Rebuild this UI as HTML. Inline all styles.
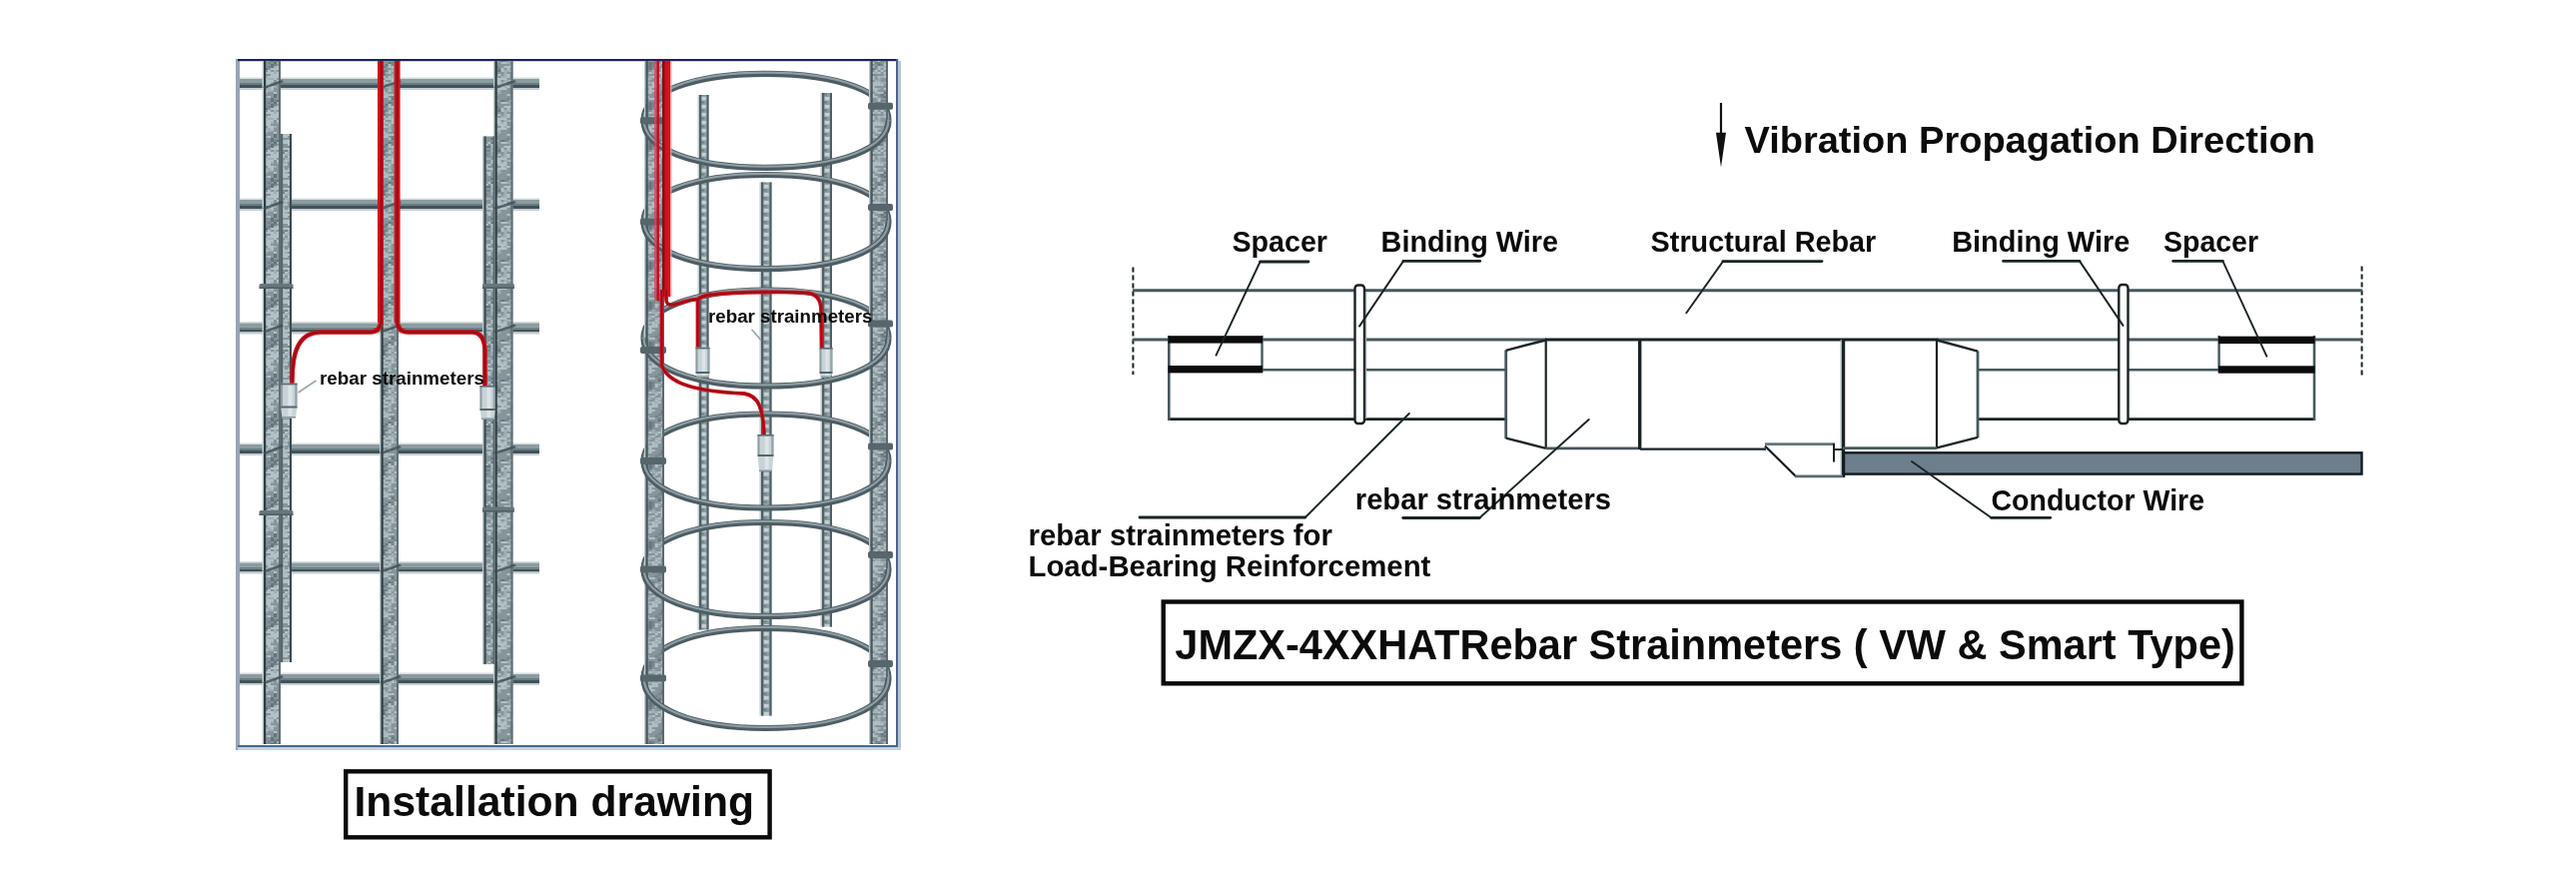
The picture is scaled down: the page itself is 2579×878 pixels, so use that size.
<!DOCTYPE html>
<html><head><meta charset="utf-8"><title>Rebar Strainmeters</title>
<style>
html,body{margin:0;padding:0;background:#fff;overflow:hidden}
svg{display:block;will-change:transform}
text{font-family:"Liberation Sans",sans-serif;font-weight:bold}
</style></head><body>
<svg width="2579" height="878" viewBox="0 0 2579 878">

<defs>
 <filter id="soft" x="0" y="0" width="1" height="1"><feGaussianBlur stdDeviation="0.45"/></filter>
<pattern id="p1" patternUnits="userSpaceOnUse" x="264" y="0" width="17" height="40"><rect width="17" height="40" fill="#85959a"/><rect x="1.0" y="0" width="3" height="2" fill="#b3c1c5"/><rect x="4.0" y="0" width="3" height="2" fill="#b3c1c5"/><rect x="7.0" y="0" width="3" height="2" fill="#b3c1c5"/><rect x="13.0" y="0" width="3" height="2" fill="#b3c1c5"/><rect x="1.0" y="2" width="3" height="2" fill="#b3c1c5"/><rect x="4.0" y="2" width="3" height="2" fill="#b3c1c5"/><rect x="7.0" y="2" width="3" height="2" fill="#9fafb3"/><rect x="13.0" y="2" width="3" height="2" fill="#9fafb3"/><rect x="1.0" y="4" width="3" height="2" fill="#b3c1c5"/><rect x="4.0" y="4" width="3" height="2" fill="#b3c1c5"/><rect x="4.0" y="6" width="3" height="2" fill="#b3c1c5"/><rect x="7.0" y="6" width="3" height="2" fill="#b3c1c5"/><rect x="10.0" y="6" width="3" height="2" fill="#9fafb3"/><rect x="1.0" y="8" width="3" height="2" fill="#9fafb3"/><rect x="4.0" y="8" width="3" height="2" fill="#9fafb3"/><rect x="7.0" y="8" width="3" height="2" fill="#b3c1c5"/><rect x="1.0" y="10" width="3" height="2" fill="#b3c1c5"/><rect x="4.0" y="10" width="3" height="2" fill="#9fafb3"/><rect x="7.0" y="10" width="3" height="2" fill="#9fafb3"/><rect x="1.0" y="12" width="3" height="2" fill="#9fafb3"/><rect x="10.0" y="12" width="3" height="2" fill="#b3c1c5"/><rect x="10.0" y="14" width="3" height="2" fill="#64747a"/><rect x="1.0" y="16" width="3" height="2" fill="#9fafb3"/><rect x="4.0" y="16" width="3" height="2" fill="#b3c1c5"/><rect x="10.0" y="16" width="3" height="2" fill="#64747a"/><rect x="7.0" y="18" width="3" height="2" fill="#64747a"/><rect x="7.0" y="20" width="3" height="2" fill="#64747a"/><rect x="10.0" y="20" width="3" height="2" fill="#74848a"/><rect x="13.0" y="20" width="3" height="2" fill="#64747a"/><rect x="4.0" y="22" width="3" height="2" fill="#74848a"/><rect x="10.0" y="22" width="3" height="2" fill="#64747a"/><rect x="13.0" y="22" width="3" height="2" fill="#9fafb3"/><rect x="7.0" y="24" width="3" height="2" fill="#64747a"/><rect x="10.0" y="24" width="3" height="2" fill="#74848a"/><rect x="4.0" y="26" width="3" height="2" fill="#74848a"/><rect x="7.0" y="26" width="3" height="2" fill="#64747a"/><rect x="10.0" y="26" width="3" height="2" fill="#9fafb3"/><rect x="13.0" y="26" width="3" height="2" fill="#b3c1c5"/><rect x="1.0" y="28" width="3" height="2" fill="#64747a"/><rect x="7.0" y="28" width="3" height="2" fill="#b3c1c5"/><rect x="10.0" y="28" width="3" height="2" fill="#b3c1c5"/><rect x="13.0" y="28" width="3" height="2" fill="#b3c1c5"/><rect x="4.0" y="30" width="3" height="2" fill="#b3c1c5"/><rect x="10.0" y="30" width="3" height="2" fill="#9fafb3"/><rect x="1.0" y="32" width="3" height="2" fill="#b3c1c5"/><rect x="4.0" y="32" width="3" height="2" fill="#b3c1c5"/><rect x="7.0" y="32" width="3" height="2" fill="#b3c1c5"/><rect x="10.0" y="32" width="3" height="2" fill="#9fafb3"/><rect x="13.0" y="32" width="3" height="2" fill="#b3c1c5"/><rect x="7.0" y="34" width="3" height="2" fill="#b3c1c5"/><rect x="10.0" y="34" width="3" height="2" fill="#b3c1c5"/><rect x="13.0" y="34" width="3" height="2" fill="#b3c1c5"/><rect x="1.0" y="36" width="3" height="2" fill="#9fafb3"/><rect x="4.0" y="36" width="3" height="2" fill="#b3c1c5"/><rect x="7.0" y="36" width="3" height="2" fill="#b3c1c5"/><rect x="10.0" y="36" width="3" height="2" fill="#b3c1c5"/><rect x="13.0" y="36" width="3" height="2" fill="#b3c1c5"/><rect x="1.0" y="38" width="3" height="2" fill="#b3c1c5"/><rect x="4.0" y="38" width="3" height="2" fill="#9fafb3"/><rect x="7.0" y="38" width="3" height="2" fill="#9fafb3"/><rect x="10.0" y="38" width="3" height="2" fill="#b3c1c5"/></pattern>
<pattern id="p2" patternUnits="userSpaceOnUse" x="381.5" y="0" width="17.5" height="40"><rect width="17.5" height="40" fill="#85959a"/><rect x="1.2" y="0" width="3" height="2" fill="#b3c1c5"/><rect x="10.2" y="0" width="3" height="2" fill="#b3c1c5"/><rect x="1.2" y="2" width="3" height="2" fill="#9fafb3"/><rect x="4.2" y="2" width="3" height="2" fill="#b3c1c5"/><rect x="7.2" y="2" width="3" height="2" fill="#9fafb3"/><rect x="10.2" y="2" width="3" height="2" fill="#b3c1c5"/><rect x="13.2" y="2" width="3" height="2" fill="#9fafb3"/><rect x="1.2" y="4" width="3" height="2" fill="#9fafb3"/><rect x="7.2" y="4" width="3" height="2" fill="#b3c1c5"/><rect x="1.2" y="6" width="3" height="2" fill="#b3c1c5"/><rect x="4.2" y="6" width="3" height="2" fill="#b3c1c5"/><rect x="7.2" y="6" width="3" height="2" fill="#9fafb3"/><rect x="7.2" y="8" width="3" height="2" fill="#9fafb3"/><rect x="13.2" y="8" width="3" height="2" fill="#b3c1c5"/><rect x="1.2" y="10" width="3" height="2" fill="#9fafb3"/><rect x="7.2" y="10" width="3" height="2" fill="#b3c1c5"/><rect x="1.2" y="12" width="3" height="2" fill="#b3c1c5"/><rect x="4.2" y="12" width="3" height="2" fill="#9fafb3"/><rect x="1.2" y="14" width="3" height="2" fill="#9fafb3"/><rect x="4.2" y="14" width="3" height="2" fill="#b3c1c5"/><rect x="7.2" y="14" width="3" height="2" fill="#b3c1c5"/><rect x="10.2" y="14" width="3" height="2" fill="#b3c1c5"/><rect x="1.2" y="16" width="3" height="2" fill="#b3c1c5"/><rect x="4.2" y="16" width="3" height="2" fill="#b3c1c5"/><rect x="10.2" y="16" width="3" height="2" fill="#74848a"/><rect x="7.2" y="18" width="3" height="2" fill="#b3c1c5"/><rect x="10.2" y="18" width="3" height="2" fill="#64747a"/><rect x="13.2" y="20" width="3" height="2" fill="#74848a"/><rect x="7.2" y="22" width="3" height="2" fill="#64747a"/><rect x="10.2" y="22" width="3" height="2" fill="#74848a"/><rect x="13.2" y="22" width="3" height="2" fill="#b3c1c5"/><rect x="4.2" y="24" width="3" height="2" fill="#64747a"/><rect x="7.2" y="24" width="3" height="2" fill="#b3c1c5"/><rect x="10.2" y="24" width="3" height="2" fill="#74848a"/><rect x="13.2" y="24" width="3" height="2" fill="#b3c1c5"/><rect x="1.2" y="26" width="3" height="2" fill="#64747a"/><rect x="7.2" y="26" width="3" height="2" fill="#b3c1c5"/><rect x="10.2" y="26" width="3" height="2" fill="#b3c1c5"/><rect x="10.2" y="28" width="3" height="2" fill="#9fafb3"/><rect x="1.2" y="30" width="3" height="2" fill="#64747a"/><rect x="4.2" y="30" width="3" height="2" fill="#74848a"/><rect x="7.2" y="30" width="3" height="2" fill="#b3c1c5"/><rect x="10.2" y="30" width="3" height="2" fill="#9fafb3"/><rect x="1.2" y="32" width="3" height="2" fill="#64747a"/><rect x="4.2" y="32" width="3" height="2" fill="#9fafb3"/><rect x="7.2" y="32" width="3" height="2" fill="#b3c1c5"/><rect x="13.2" y="32" width="3" height="2" fill="#b3c1c5"/><rect x="1.2" y="34" width="3" height="2" fill="#64747a"/><rect x="10.2" y="34" width="3" height="2" fill="#9fafb3"/><rect x="1.2" y="36" width="3" height="2" fill="#b3c1c5"/><rect x="7.2" y="36" width="3" height="2" fill="#b3c1c5"/><rect x="10.2" y="36" width="3" height="2" fill="#9fafb3"/><rect x="13.2" y="36" width="3" height="2" fill="#9fafb3"/><rect x="4.2" y="38" width="3" height="2" fill="#b3c1c5"/><rect x="7.2" y="38" width="3" height="2" fill="#b3c1c5"/><rect x="10.2" y="38" width="3" height="2" fill="#b3c1c5"/></pattern>
<pattern id="p3" patternUnits="userSpaceOnUse" x="495.5" y="0" width="18.0" height="40"><rect width="18.0" height="40" fill="#85959a"/><rect x="0.0" y="0" width="3" height="2" fill="#b3c1c5"/><rect x="3.0" y="0" width="3" height="2" fill="#b3c1c5"/><rect x="9.0" y="0" width="3" height="2" fill="#9fafb3"/><rect x="12.0" y="0" width="3" height="2" fill="#9fafb3"/><rect x="15.0" y="0" width="3" height="2" fill="#b3c1c5"/><rect x="0.0" y="2" width="3" height="2" fill="#b3c1c5"/><rect x="3.0" y="2" width="3" height="2" fill="#b3c1c5"/><rect x="6.0" y="2" width="3" height="2" fill="#9fafb3"/><rect x="9.0" y="2" width="3" height="2" fill="#b3c1c5"/><rect x="3.0" y="4" width="3" height="2" fill="#b3c1c5"/><rect x="6.0" y="4" width="3" height="2" fill="#b3c1c5"/><rect x="9.0" y="4" width="3" height="2" fill="#b3c1c5"/><rect x="6.0" y="6" width="3" height="2" fill="#b3c1c5"/><rect x="9.0" y="6" width="3" height="2" fill="#9fafb3"/><rect x="12.0" y="6" width="3" height="2" fill="#b3c1c5"/><rect x="0.0" y="8" width="3" height="2" fill="#9fafb3"/><rect x="3.0" y="8" width="3" height="2" fill="#b3c1c5"/><rect x="6.0" y="8" width="3" height="2" fill="#b3c1c5"/><rect x="9.0" y="8" width="3" height="2" fill="#b3c1c5"/><rect x="15.0" y="8" width="3" height="2" fill="#74848a"/><rect x="0.0" y="10" width="3" height="2" fill="#b3c1c5"/><rect x="3.0" y="10" width="3" height="2" fill="#9fafb3"/><rect x="15.0" y="10" width="3" height="2" fill="#74848a"/><rect x="3.0" y="12" width="3" height="2" fill="#9fafb3"/><rect x="15.0" y="12" width="3" height="2" fill="#74848a"/><rect x="0.0" y="14" width="3" height="2" fill="#9fafb3"/><rect x="12.0" y="14" width="3" height="2" fill="#b3c1c5"/><rect x="12.0" y="18" width="3" height="2" fill="#74848a"/><rect x="0.0" y="20" width="3" height="2" fill="#b3c1c5"/><rect x="6.0" y="20" width="3" height="2" fill="#64747a"/><rect x="9.0" y="20" width="3" height="2" fill="#74848a"/><rect x="15.0" y="20" width="3" height="2" fill="#b3c1c5"/><rect x="6.0" y="22" width="3" height="2" fill="#b3c1c5"/><rect x="9.0" y="22" width="3" height="2" fill="#b3c1c5"/><rect x="12.0" y="22" width="3" height="2" fill="#9fafb3"/><rect x="15.0" y="24" width="3" height="2" fill="#9fafb3"/><rect x="0.0" y="26" width="3" height="2" fill="#64747a"/><rect x="9.0" y="26" width="3" height="2" fill="#b3c1c5"/><rect x="12.0" y="26" width="3" height="2" fill="#b3c1c5"/><rect x="15.0" y="26" width="3" height="2" fill="#b3c1c5"/><rect x="0.0" y="28" width="3" height="2" fill="#74848a"/><rect x="3.0" y="28" width="3" height="2" fill="#74848a"/><rect x="6.0" y="28" width="3" height="2" fill="#b3c1c5"/><rect x="12.0" y="28" width="3" height="2" fill="#b3c1c5"/><rect x="0.0" y="30" width="3" height="2" fill="#74848a"/><rect x="3.0" y="30" width="3" height="2" fill="#64747a"/><rect x="6.0" y="30" width="3" height="2" fill="#b3c1c5"/><rect x="9.0" y="30" width="3" height="2" fill="#9fafb3"/><rect x="12.0" y="30" width="3" height="2" fill="#9fafb3"/><rect x="15.0" y="30" width="3" height="2" fill="#b3c1c5"/><rect x="0.0" y="32" width="3" height="2" fill="#74848a"/><rect x="9.0" y="32" width="3" height="2" fill="#9fafb3"/><rect x="3.0" y="34" width="3" height="2" fill="#b3c1c5"/><rect x="9.0" y="34" width="3" height="2" fill="#9fafb3"/><rect x="12.0" y="34" width="3" height="2" fill="#b3c1c5"/><rect x="0.0" y="36" width="3" height="2" fill="#9fafb3"/><rect x="6.0" y="36" width="3" height="2" fill="#9fafb3"/><rect x="9.0" y="36" width="3" height="2" fill="#9fafb3"/><rect x="12.0" y="36" width="3" height="2" fill="#b3c1c5"/><rect x="0.0" y="38" width="3" height="2" fill="#b3c1c5"/><rect x="3.0" y="38" width="3" height="2" fill="#b3c1c5"/><rect x="6.0" y="38" width="3" height="2" fill="#b3c1c5"/><rect x="9.0" y="38" width="3" height="2" fill="#b3c1c5"/></pattern>
<pattern id="p4" patternUnits="userSpaceOnUse" x="281" y="0" width="11" height="40"><rect width="11" height="40" fill="#85959a"/><rect x="1.0" y="0" width="3" height="2" fill="#9fafb3"/><rect x="4.0" y="0" width="3" height="2" fill="#b3c1c5"/><rect x="7.0" y="0" width="3" height="2" fill="#9fafb3"/><rect x="1.0" y="2" width="3" height="2" fill="#9fafb3"/><rect x="4.0" y="2" width="3" height="2" fill="#9fafb3"/><rect x="1.0" y="4" width="3" height="2" fill="#b3c1c5"/><rect x="4.0" y="4" width="3" height="2" fill="#b3c1c5"/><rect x="1.0" y="6" width="3" height="2" fill="#9fafb3"/><rect x="1.0" y="8" width="3" height="2" fill="#b3c1c5"/><rect x="7.0" y="8" width="3" height="2" fill="#9fafb3"/><rect x="1.0" y="10" width="3" height="2" fill="#b3c1c5"/><rect x="4.0" y="10" width="3" height="2" fill="#b3c1c5"/><rect x="7.0" y="10" width="3" height="2" fill="#b3c1c5"/><rect x="1.0" y="12" width="3" height="2" fill="#b3c1c5"/><rect x="4.0" y="12" width="3" height="2" fill="#9fafb3"/><rect x="1.0" y="14" width="3" height="2" fill="#b3c1c5"/><rect x="4.0" y="14" width="3" height="2" fill="#b3c1c5"/><rect x="7.0" y="14" width="3" height="2" fill="#b3c1c5"/><rect x="1.0" y="16" width="3" height="2" fill="#b3c1c5"/><rect x="4.0" y="16" width="3" height="2" fill="#b3c1c5"/><rect x="1.0" y="20" width="3" height="2" fill="#b3c1c5"/><rect x="4.0" y="20" width="3" height="2" fill="#b3c1c5"/><rect x="7.0" y="20" width="3" height="2" fill="#b3c1c5"/><rect x="1.0" y="22" width="3" height="2" fill="#b3c1c5"/><rect x="4.0" y="22" width="3" height="2" fill="#b3c1c5"/><rect x="7.0" y="22" width="3" height="2" fill="#b3c1c5"/><rect x="7.0" y="24" width="3" height="2" fill="#b3c1c5"/><rect x="7.0" y="26" width="3" height="2" fill="#74848a"/><rect x="1.0" y="28" width="3" height="2" fill="#b3c1c5"/><rect x="4.0" y="28" width="3" height="2" fill="#b3c1c5"/><rect x="7.0" y="28" width="3" height="2" fill="#b3c1c5"/><rect x="4.0" y="30" width="3" height="2" fill="#74848a"/><rect x="7.0" y="30" width="3" height="2" fill="#9fafb3"/><rect x="1.0" y="32" width="3" height="2" fill="#74848a"/><rect x="4.0" y="32" width="3" height="2" fill="#b3c1c5"/><rect x="7.0" y="32" width="3" height="2" fill="#9fafb3"/><rect x="1.0" y="34" width="3" height="2" fill="#b3c1c5"/><rect x="4.0" y="34" width="3" height="2" fill="#9fafb3"/><rect x="7.0" y="34" width="3" height="2" fill="#9fafb3"/><rect x="1.0" y="36" width="3" height="2" fill="#b3c1c5"/><rect x="7.0" y="36" width="3" height="2" fill="#b3c1c5"/><rect x="4.0" y="38" width="3" height="2" fill="#9fafb3"/><rect x="7.0" y="38" width="3" height="2" fill="#9fafb3"/></pattern>
<pattern id="p5" patternUnits="userSpaceOnUse" x="484.5" y="0" width="11.0" height="40"><rect width="11.0" height="40" fill="#85959a"/><rect x="7.0" y="0" width="3" height="2" fill="#b3c1c5"/><rect x="7.0" y="2" width="3" height="2" fill="#b3c1c5"/><rect x="1.0" y="4" width="3" height="2" fill="#9fafb3"/><rect x="4.0" y="4" width="3" height="2" fill="#b3c1c5"/><rect x="1.0" y="6" width="3" height="2" fill="#b3c1c5"/><rect x="1.0" y="8" width="3" height="2" fill="#9fafb3"/><rect x="4.0" y="8" width="3" height="2" fill="#b3c1c5"/><rect x="7.0" y="8" width="3" height="2" fill="#b3c1c5"/><rect x="7.0" y="10" width="3" height="2" fill="#9fafb3"/><rect x="1.0" y="12" width="3" height="2" fill="#9fafb3"/><rect x="4.0" y="12" width="3" height="2" fill="#b3c1c5"/><rect x="4.0" y="14" width="3" height="2" fill="#b3c1c5"/><rect x="7.0" y="18" width="3" height="2" fill="#64747a"/><rect x="4.0" y="22" width="3" height="2" fill="#b3c1c5"/><rect x="7.0" y="22" width="3" height="2" fill="#64747a"/><rect x="1.0" y="24" width="3" height="2" fill="#b3c1c5"/><rect x="7.0" y="24" width="3" height="2" fill="#b3c1c5"/><rect x="1.0" y="26" width="3" height="2" fill="#64747a"/><rect x="4.0" y="26" width="3" height="2" fill="#64747a"/><rect x="7.0" y="26" width="3" height="2" fill="#b3c1c5"/><rect x="7.0" y="28" width="3" height="2" fill="#9fafb3"/><rect x="1.0" y="30" width="3" height="2" fill="#74848a"/><rect x="4.0" y="30" width="3" height="2" fill="#74848a"/><rect x="7.0" y="30" width="3" height="2" fill="#b3c1c5"/><rect x="7.0" y="32" width="3" height="2" fill="#9fafb3"/><rect x="1.0" y="34" width="3" height="2" fill="#74848a"/><rect x="7.0" y="34" width="3" height="2" fill="#9fafb3"/><rect x="1.0" y="38" width="3" height="2" fill="#9fafb3"/><rect x="4.0" y="38" width="3" height="2" fill="#9fafb3"/></pattern>
<pattern id="p6" patternUnits="userSpaceOnUse" x="700" y="0" width="9.5" height="8">
  <rect width="9.5" height="8" fill="#8d9ea2"/>
  <rect x="2.4" y="1" width="4.8" height="3.5" fill="#c3cfd3"/>
  <rect x="1.9" y="5.5" width="2.9" height="2" fill="#6e7e82"/>
 </pattern>
<pattern id="p7" patternUnits="userSpaceOnUse" x="823" y="0" width="10" height="8">
  <rect width="10" height="8" fill="#8d9ea2"/>
  <rect x="2.5" y="1" width="5.0" height="3.5" fill="#c3cfd3"/>
  <rect x="2.0" y="5.5" width="3.0" height="2" fill="#6e7e82"/>
 </pattern>
<pattern id="p8" patternUnits="userSpaceOnUse" x="762" y="0" width="10.5" height="8">
  <rect width="10.5" height="8" fill="#8d9ea2"/>
  <rect x="2.6" y="1" width="5.2" height="3.5" fill="#c3cfd3"/>
  <rect x="2.1" y="5.5" width="3.1" height="2" fill="#6e7e82"/>
 </pattern>
<pattern id="p9" patternUnits="userSpaceOnUse" x="646.5" y="0" width="18.5" height="40"><rect width="18.5" height="40" fill="#85959a"/><rect x="0.2" y="0" width="3" height="2" fill="#9fafb3"/><rect x="9.2" y="0" width="3" height="2" fill="#b3c1c5"/><rect x="12.2" y="0" width="3" height="2" fill="#9fafb3"/><rect x="0.2" y="2" width="3" height="2" fill="#b3c1c5"/><rect x="3.2" y="2" width="3" height="2" fill="#9fafb3"/><rect x="6.2" y="2" width="3" height="2" fill="#b3c1c5"/><rect x="9.2" y="2" width="3" height="2" fill="#9fafb3"/><rect x="12.2" y="2" width="3" height="2" fill="#b3c1c5"/><rect x="0.2" y="4" width="3" height="2" fill="#9fafb3"/><rect x="6.2" y="4" width="3" height="2" fill="#b3c1c5"/><rect x="9.2" y="4" width="3" height="2" fill="#b3c1c5"/><rect x="0.2" y="6" width="3" height="2" fill="#9fafb3"/><rect x="3.2" y="6" width="3" height="2" fill="#b3c1c5"/><rect x="6.2" y="6" width="3" height="2" fill="#b3c1c5"/><rect x="9.2" y="6" width="3" height="2" fill="#b3c1c5"/><rect x="3.2" y="8" width="3" height="2" fill="#b3c1c5"/><rect x="0.2" y="10" width="3" height="2" fill="#9fafb3"/><rect x="3.2" y="10" width="3" height="2" fill="#b3c1c5"/><rect x="6.2" y="10" width="3" height="2" fill="#b3c1c5"/><rect x="15.2" y="10" width="3" height="2" fill="#74848a"/><rect x="0.2" y="12" width="3" height="2" fill="#9fafb3"/><rect x="3.2" y="12" width="3" height="2" fill="#b3c1c5"/><rect x="15.2" y="12" width="3" height="2" fill="#64747a"/><rect x="12.2" y="14" width="3" height="2" fill="#74848a"/><rect x="15.2" y="14" width="3" height="2" fill="#74848a"/><rect x="0.2" y="16" width="3" height="2" fill="#b3c1c5"/><rect x="9.2" y="16" width="3" height="2" fill="#74848a"/><rect x="3.2" y="18" width="3" height="2" fill="#b3c1c5"/><rect x="6.2" y="18" width="3" height="2" fill="#b3c1c5"/><rect x="12.2" y="18" width="3" height="2" fill="#74848a"/><rect x="12.2" y="20" width="3" height="2" fill="#64747a"/><rect x="3.2" y="22" width="3" height="2" fill="#64747a"/><rect x="6.2" y="22" width="3" height="2" fill="#74848a"/><rect x="15.2" y="22" width="3" height="2" fill="#b3c1c5"/><rect x="3.2" y="24" width="3" height="2" fill="#64747a"/><rect x="6.2" y="24" width="3" height="2" fill="#74848a"/><rect x="9.2" y="24" width="3" height="2" fill="#b3c1c5"/><rect x="12.2" y="24" width="3" height="2" fill="#9fafb3"/><rect x="0.2" y="26" width="3" height="2" fill="#74848a"/><rect x="3.2" y="26" width="3" height="2" fill="#64747a"/><rect x="6.2" y="26" width="3" height="2" fill="#74848a"/><rect x="9.2" y="26" width="3" height="2" fill="#b3c1c5"/><rect x="3.2" y="28" width="3" height="2" fill="#64747a"/><rect x="15.2" y="28" width="3" height="2" fill="#b3c1c5"/><rect x="0.2" y="30" width="3" height="2" fill="#74848a"/><rect x="6.2" y="30" width="3" height="2" fill="#9fafb3"/><rect x="15.2" y="30" width="3" height="2" fill="#b3c1c5"/><rect x="3.2" y="32" width="3" height="2" fill="#b3c1c5"/><rect x="6.2" y="32" width="3" height="2" fill="#9fafb3"/><rect x="9.2" y="32" width="3" height="2" fill="#9fafb3"/><rect x="12.2" y="32" width="3" height="2" fill="#b3c1c5"/><rect x="15.2" y="32" width="3" height="2" fill="#b3c1c5"/><rect x="9.2" y="34" width="3" height="2" fill="#b3c1c5"/><rect x="15.2" y="34" width="3" height="2" fill="#b3c1c5"/><rect x="3.2" y="36" width="3" height="2" fill="#9fafb3"/><rect x="6.2" y="36" width="3" height="2" fill="#b3c1c5"/><rect x="15.2" y="36" width="3" height="2" fill="#b3c1c5"/><rect x="0.2" y="38" width="3" height="2" fill="#b3c1c5"/><rect x="3.2" y="38" width="3" height="2" fill="#9fafb3"/><rect x="9.2" y="38" width="3" height="2" fill="#9fafb3"/><rect x="12.2" y="38" width="3" height="2" fill="#b3c1c5"/></pattern>
<pattern id="p10" patternUnits="userSpaceOnUse" x="871.5" y="0" width="17.5" height="40"><rect width="17.5" height="40" fill="#85959a"/><rect x="4.2" y="0" width="3" height="2" fill="#9fafb3"/><rect x="7.2" y="0" width="3" height="2" fill="#9fafb3"/><rect x="1.2" y="2" width="3" height="2" fill="#b3c1c5"/><rect x="4.2" y="2" width="3" height="2" fill="#b3c1c5"/><rect x="7.2" y="2" width="3" height="2" fill="#b3c1c5"/><rect x="10.2" y="2" width="3" height="2" fill="#9fafb3"/><rect x="13.2" y="2" width="3" height="2" fill="#9fafb3"/><rect x="1.2" y="4" width="3" height="2" fill="#b3c1c5"/><rect x="4.2" y="4" width="3" height="2" fill="#b3c1c5"/><rect x="7.2" y="4" width="3" height="2" fill="#b3c1c5"/><rect x="10.2" y="4" width="3" height="2" fill="#b3c1c5"/><rect x="1.2" y="6" width="3" height="2" fill="#b3c1c5"/><rect x="1.2" y="8" width="3" height="2" fill="#b3c1c5"/><rect x="4.2" y="8" width="3" height="2" fill="#b3c1c5"/><rect x="7.2" y="8" width="3" height="2" fill="#9fafb3"/><rect x="13.2" y="8" width="3" height="2" fill="#b3c1c5"/><rect x="1.2" y="10" width="3" height="2" fill="#9fafb3"/><rect x="4.2" y="10" width="3" height="2" fill="#b3c1c5"/><rect x="4.2" y="12" width="3" height="2" fill="#9fafb3"/><rect x="7.2" y="12" width="3" height="2" fill="#b3c1c5"/><rect x="10.2" y="12" width="3" height="2" fill="#b3c1c5"/><rect x="13.2" y="12" width="3" height="2" fill="#64747a"/><rect x="1.2" y="14" width="3" height="2" fill="#b3c1c5"/><rect x="10.2" y="14" width="3" height="2" fill="#64747a"/><rect x="1.2" y="16" width="3" height="2" fill="#b3c1c5"/><rect x="4.2" y="16" width="3" height="2" fill="#b3c1c5"/><rect x="10.2" y="16" width="3" height="2" fill="#74848a"/><rect x="13.2" y="16" width="3" height="2" fill="#64747a"/><rect x="7.2" y="18" width="3" height="2" fill="#b3c1c5"/><rect x="7.2" y="20" width="3" height="2" fill="#b3c1c5"/><rect x="10.2" y="20" width="3" height="2" fill="#74848a"/><rect x="13.2" y="20" width="3" height="2" fill="#74848a"/><rect x="1.2" y="22" width="3" height="2" fill="#b3c1c5"/><rect x="4.2" y="22" width="3" height="2" fill="#74848a"/><rect x="7.2" y="22" width="3" height="2" fill="#74848a"/><rect x="13.2" y="22" width="3" height="2" fill="#9fafb3"/><rect x="7.2" y="24" width="3" height="2" fill="#64747a"/><rect x="10.2" y="24" width="3" height="2" fill="#74848a"/><rect x="13.2" y="24" width="3" height="2" fill="#b3c1c5"/><rect x="1.2" y="26" width="3" height="2" fill="#b3c1c5"/><rect x="4.2" y="26" width="3" height="2" fill="#74848a"/><rect x="7.2" y="26" width="3" height="2" fill="#b3c1c5"/><rect x="10.2" y="26" width="3" height="2" fill="#9fafb3"/><rect x="13.2" y="26" width="3" height="2" fill="#9fafb3"/><rect x="1.2" y="28" width="3" height="2" fill="#64747a"/><rect x="7.2" y="28" width="3" height="2" fill="#b3c1c5"/><rect x="13.2" y="28" width="3" height="2" fill="#b3c1c5"/><rect x="4.2" y="30" width="3" height="2" fill="#b3c1c5"/><rect x="10.2" y="30" width="3" height="2" fill="#b3c1c5"/><rect x="1.2" y="32" width="3" height="2" fill="#b3c1c5"/><rect x="4.2" y="32" width="3" height="2" fill="#9fafb3"/><rect x="7.2" y="32" width="3" height="2" fill="#b3c1c5"/><rect x="13.2" y="32" width="3" height="2" fill="#b3c1c5"/><rect x="1.2" y="34" width="3" height="2" fill="#74848a"/><rect x="13.2" y="34" width="3" height="2" fill="#9fafb3"/><rect x="1.2" y="36" width="3" height="2" fill="#b3c1c5"/><rect x="7.2" y="36" width="3" height="2" fill="#b3c1c5"/><rect x="10.2" y="36" width="3" height="2" fill="#9fafb3"/><rect x="13.2" y="36" width="3" height="2" fill="#b3c1c5"/><rect x="1.2" y="38" width="3" height="2" fill="#b3c1c5"/><rect x="7.2" y="38" width="3" height="2" fill="#9fafb3"/></pattern></defs>
<rect width="2579" height="878" fill="#ffffff"/>
<g filter="url(#soft)">
<rect x="236" y="59" width="4" height="692" fill="#95a5b5"/>
<rect x="238" y="59" width="661" height="2.2" fill="#1b2850"/>
<rect x="897" y="59" width="2.2" height="689" fill="#4e6488"/>
<rect x="899" y="61" width="3" height="690" fill="#b6c4d4"/>
<rect x="238" y="746" width="661" height="2.2" fill="#4a6890"/>
<rect x="238" y="748" width="664" height="3" fill="#c6d2de"/>
<rect x="240" y="77.5" width="300" height="1.5" fill="#d6dede"/>
<rect x="240" y="79" width="300" height="4" fill="#8a9ca0"/>
<rect x="240" y="83" width="300" height="2" fill="#6a7c80"/>
<rect x="240" y="85" width="300" height="3" fill="#405256"/>
<rect x="240" y="88" width="300" height="2" fill="#c6ced6"/>
<rect x="240" y="198.5" width="300" height="1.5" fill="#d6dede"/>
<rect x="240" y="200" width="300" height="4" fill="#8a9ca0"/>
<rect x="240" y="204" width="300" height="2" fill="#6a7c80"/>
<rect x="240" y="206" width="300" height="3" fill="#405256"/>
<rect x="240" y="209" width="300" height="2" fill="#c6ced6"/>
<rect x="240" y="322.0" width="300" height="1.5" fill="#d6dede"/>
<rect x="240" y="323.5" width="300" height="4" fill="#8a9ca0"/>
<rect x="240" y="327.5" width="300" height="2" fill="#6a7c80"/>
<rect x="240" y="329.5" width="300" height="3" fill="#405256"/>
<rect x="240" y="332.5" width="300" height="2" fill="#c6ced6"/>
<rect x="240" y="443.5" width="300" height="1.5" fill="#d6dede"/>
<rect x="240" y="445" width="300" height="4" fill="#8a9ca0"/>
<rect x="240" y="449" width="300" height="2" fill="#6a7c80"/>
<rect x="240" y="451" width="300" height="3" fill="#405256"/>
<rect x="240" y="454" width="300" height="2" fill="#c6ced6"/>
<rect x="240" y="562.0" width="300" height="1.5" fill="#d6dede"/>
<rect x="240" y="563.5" width="300" height="4" fill="#8a9ca0"/>
<rect x="240" y="567.5" width="300" height="2" fill="#6a7c80"/>
<rect x="240" y="569.5" width="300" height="3" fill="#405256"/>
<rect x="240" y="572.5" width="300" height="2" fill="#c6ced6"/>
<rect x="240" y="673.5" width="300" height="1.5" fill="#d6dede"/>
<rect x="240" y="675" width="300" height="4" fill="#8a9ca0"/>
<rect x="240" y="679" width="300" height="2" fill="#6a7c80"/>
<rect x="240" y="681" width="300" height="3" fill="#405256"/>
<rect x="240" y="684" width="300" height="2" fill="#c6ced6"/>
<rect x="262.5" y="61" width="1.5" height="684" fill="#c0cccc"/>
<rect x="264" y="61" width="17" height="684" fill="url(#p1)"/>
<rect x="264" y="61" width="2.2" height="684" fill="#2e3e42"/>
<rect x="279" y="61" width="2" height="684" fill="#5f6f73"/>
<rect x="380.0" y="61" width="1.5" height="684" fill="#c0cccc"/>
<rect x="381.5" y="61" width="17.5" height="684" fill="url(#p2)"/>
<rect x="381.5" y="61" width="2.2" height="684" fill="#2e3e42"/>
<rect x="397" y="61" width="2" height="684" fill="#5f6f73"/>
<rect x="494.0" y="61" width="1.5" height="684" fill="#c0cccc"/>
<rect x="495.5" y="61" width="18.0" height="684" fill="url(#p3)"/>
<rect x="495.5" y="61" width="2.2" height="684" fill="#2e3e42"/>
<rect x="511.5" y="61" width="2" height="684" fill="#5f6f73"/>
<rect x="281" y="134" width="11" height="529" fill="url(#p4)"/>
<rect x="281" y="134" width="2.2" height="529" fill="#56666a"/>
<rect x="290" y="134" width="2" height="529" fill="#3a4a4e"/>
<rect x="483.0" y="136.5" width="1.5" height="528.5" fill="#c0cccc"/>
<rect x="484.5" y="136.5" width="11.0" height="528.5" fill="url(#p5)"/>
<rect x="484.5" y="136.5" width="2.2" height="528.5" fill="#3e4e52"/>
<rect x="493.5" y="136.5" width="2" height="528.5" fill="#5a6a6e"/>
<path d="M263,87 L282,80 L284,82 L265,89 Z" fill="#3e4e52" opacity="0.8"/>
<path d="M380,87 L400,80 L402,82 L382,89 Z" fill="#3e4e52" opacity="0.8"/>
<path d="M494,87 L515,80 L517,82 L496,89 Z" fill="#3e4e52" opacity="0.8"/>
<path d="M263,208 L282,201 L284,203 L265,210 Z" fill="#3e4e52" opacity="0.8"/>
<path d="M380,208 L400,201 L402,203 L382,210 Z" fill="#3e4e52" opacity="0.8"/>
<path d="M494,208 L515,201 L517,203 L496,210 Z" fill="#3e4e52" opacity="0.8"/>
<path d="M263,331.5 L282,324.5 L284,326.5 L265,333.5 Z" fill="#3e4e52" opacity="0.8"/>
<path d="M380,331.5 L400,324.5 L402,326.5 L382,333.5 Z" fill="#3e4e52" opacity="0.8"/>
<path d="M494,331.5 L515,324.5 L517,326.5 L496,333.5 Z" fill="#3e4e52" opacity="0.8"/>
<path d="M263,453 L282,446 L284,448 L265,455 Z" fill="#3e4e52" opacity="0.8"/>
<path d="M380,453 L400,446 L402,448 L382,455 Z" fill="#3e4e52" opacity="0.8"/>
<path d="M494,453 L515,446 L517,448 L496,455 Z" fill="#3e4e52" opacity="0.8"/>
<path d="M263,571.5 L282,564.5 L284,566.5 L265,573.5 Z" fill="#3e4e52" opacity="0.8"/>
<path d="M380,571.5 L400,564.5 L402,566.5 L382,573.5 Z" fill="#3e4e52" opacity="0.8"/>
<path d="M494,571.5 L515,564.5 L517,566.5 L496,573.5 Z" fill="#3e4e52" opacity="0.8"/>
<path d="M263,683 L282,676 L284,678 L265,685 Z" fill="#3e4e52" opacity="0.8"/>
<path d="M380,683 L400,676 L402,678 L382,685 Z" fill="#3e4e52" opacity="0.8"/>
<path d="M494,683 L515,676 L517,678 L496,685 Z" fill="#3e4e52" opacity="0.8"/>
<rect x="259.5" y="284" width="34.0" height="5" rx="1.5" fill="#67777b"/>
<rect x="259.5" y="287.5" width="34.0" height="1.5" fill="#4e5e62"/>
<rect x="483" y="284" width="32" height="5" rx="1.5" fill="#67777b"/>
<rect x="483" y="287.5" width="32" height="1.5" fill="#4e5e62"/>
<rect x="259.5" y="511" width="34.0" height="5" rx="1.5" fill="#67777b"/>
<rect x="259.5" y="514.5" width="34.0" height="1.5" fill="#4e5e62"/>
<rect x="483" y="507.5" width="32" height="5" rx="1.5" fill="#67777b"/>
<rect x="483" y="511.0" width="32" height="1.5" fill="#4e5e62"/>
<path d="M381.5,61 L381.5,320 Q381.5,332.5 370,332.5 L322,332.5 C300,332.5 292,350 292.5,384" fill="none" stroke="#d0121e" stroke-width="4.6"/>
<path d="M381.5,61 L381.5,320 Q381.5,332.5 370,332.5 L322,332.5 C300,332.5 292,350 292.5,384" fill="none" stroke="#980a14" stroke-width="2"/>
<path d="M397.5,61 L397.5,320 Q397.5,332.5 409,332.5 L472,332.5 C481,332.5 485.5,339 485.5,352 L485.5,386" fill="none" stroke="#d0121e" stroke-width="4.6"/>
<path d="M397.5,61 L397.5,320 Q397.5,332.5 409,332.5 L472,332.5 C481,332.5 485.5,339 485.5,352 L485.5,386" fill="none" stroke="#980a14" stroke-width="2"/>
<rect x="378" y="61" width="6" height="262" fill="#d0121e"/>
<rect x="380.6" y="61" width="2" height="262" fill="#980a14"/>
<rect x="394.6" y="61" width="6" height="262" fill="#d0121e"/>
<rect x="396.6" y="61" width="2" height="262" fill="#980a14"/>
<path d="M281,383.7 L297.5,383.7 L297.5,406.5 L296.0,418.5 L282.5,418.5 L281,406.5 Z" fill="#c8d3d7"/>
<rect x="281" y="383.7" width="2" height="22.80000000000001" fill="#8d9da1"/>
<rect x="295.3" y="383.7" width="2.2" height="22.80000000000001" fill="#92a2a6"/>
<rect x="288.4" y="385.7" width="4.1" height="30.80000000000001" fill="#dce4e8"/>
<rect x="281" y="383.7" width="16.5" height="1.6" fill="#5c6c70"/>
<rect x="281" y="406.5" width="16.5" height="2" fill="#56666a"/>
<rect x="282.5" y="417.0" width="13.5" height="1.5" fill="#8a9a9e"/>
<path d="M480.5,386 L496,386 L496,409 L494.5,420 L482.0,420 L480.5,409 Z" fill="#c8d3d7"/>
<rect x="480.5" y="386" width="2" height="23" fill="#8d9da1"/>
<rect x="493.8" y="386" width="2.2" height="23" fill="#92a2a6"/>
<rect x="487.5" y="388" width="3.9" height="30" fill="#dce4e8"/>
<rect x="480.5" y="386" width="15.5" height="1.6" fill="#5c6c70"/>
<rect x="480.5" y="409" width="15.5" height="2" fill="#56666a"/>
<rect x="482.0" y="418.5" width="12.5" height="1.5" fill="#8a9a9e"/>
<line x1="316.5" y1="381" x2="298.5" y2="393" stroke="#9aa8a8" stroke-width="1.6"/>
<text x="320" y="384.5" font-size="18.8" textLength="165" lengthAdjust="spacingAndGlyphs" fill="#0b0b0b">rebar strainmeters</text>
<rect x="698.5" y="95" width="1.5" height="535.5" fill="#c0cccc"/>
<rect x="700" y="95" width="9.5" height="535.5" fill="url(#p6)"/>
<rect x="700" y="95" width="2.2" height="535.5" fill="#4e5e62"/>
<rect x="707.5" y="95" width="2" height="535.5" fill="#4e5e62"/>
<rect x="821.5" y="93" width="1.5" height="534.5" fill="#c0cccc"/>
<rect x="823" y="93" width="10" height="534.5" fill="url(#p7)"/>
<rect x="823" y="93" width="2.2" height="534.5" fill="#4e5e62"/>
<rect x="831" y="93" width="2" height="534.5" fill="#4e5e62"/>
<rect x="760.5" y="182.5" width="1.5" height="534.0" fill="#c0cccc"/>
<rect x="762" y="182.5" width="10.5" height="534.0" fill="url(#p8)"/>
<rect x="762" y="182.5" width="2.2" height="534.0" fill="#4e5e62"/>
<rect x="770.5" y="182.5" width="2" height="534.0" fill="#4e5e62"/>
<path d="M644.5,120.8 C644.5,92.6 693.5,73.8 767,73.8 C840.5,73.8 889.5,92.6 889.5,120.8" fill="none" stroke="#4d5d63" stroke-width="6.2"/>
<path d="M644.5,120.8 C644.5,92.6 693.5,73.8 767,73.8 C840.5,73.8 889.5,92.6 889.5,120.8" fill="none" stroke="#8d9da3" stroke-width="2.2" transform="translate(0,-1.1)"/>
<path d="M644.5,222 C644.5,193.8 693.5,175 767,175 C840.5,175 889.5,193.8 889.5,222" fill="none" stroke="#4d5d63" stroke-width="6.2"/>
<path d="M644.5,222 C644.5,193.8 693.5,175 767,175 C840.5,175 889.5,193.8 889.5,222" fill="none" stroke="#8d9da3" stroke-width="2.2" transform="translate(0,-1.1)"/>
<path d="M644.5,338.5 C644.5,309.7 693.5,290.5 767,290.5 C840.5,290.5 889.5,309.7 889.5,338.5" fill="none" stroke="#4d5d63" stroke-width="6.2"/>
<path d="M644.5,338.5 C644.5,309.7 693.5,290.5 767,290.5 C840.5,290.5 889.5,309.7 889.5,338.5" fill="none" stroke="#8d9da3" stroke-width="2.2" transform="translate(0,-1.1)"/>
<path d="M644.5,461.5 C644.5,433.3 693.5,414.5 767,414.5 C840.5,414.5 889.5,433.3 889.5,461.5" fill="none" stroke="#4d5d63" stroke-width="6.2"/>
<path d="M644.5,461.5 C644.5,433.3 693.5,414.5 767,414.5 C840.5,414.5 889.5,433.3 889.5,461.5" fill="none" stroke="#8d9da3" stroke-width="2.2" transform="translate(0,-1.1)"/>
<path d="M644.5,570 C644.5,541.8 693.5,523 767,523 C840.5,523 889.5,541.8 889.5,570" fill="none" stroke="#4d5d63" stroke-width="6.2"/>
<path d="M644.5,570 C644.5,541.8 693.5,523 767,523 C840.5,523 889.5,541.8 889.5,570" fill="none" stroke="#8d9da3" stroke-width="2.2" transform="translate(0,-1.1)"/>
<path d="M644.5,679 C644.5,649.0 693.5,629 767,629 C840.5,629 889.5,649.0 889.5,679" fill="none" stroke="#4d5d63" stroke-width="6.2"/>
<path d="M644.5,679 C644.5,649.0 693.5,629 767,629 C840.5,629 889.5,649.0 889.5,679" fill="none" stroke="#8d9da3" stroke-width="2.2" transform="translate(0,-1.1)"/>
<rect x="645.0" y="61" width="1.5" height="684" fill="#c0cccc"/>
<rect x="646.5" y="61" width="18.5" height="684" fill="url(#p9)"/>
<rect x="646.5" y="61" width="2.2" height="684" fill="#46585c"/>
<rect x="663" y="61" width="2" height="684" fill="#5a6a6e"/>
<rect x="870.0" y="61" width="1.5" height="684" fill="#c0cccc"/>
<rect x="871.5" y="61" width="17.5" height="684" fill="url(#p10)"/>
<rect x="871.5" y="61" width="2.2" height="684" fill="#46585c"/>
<rect x="887" y="61" width="2" height="684" fill="#5a6a6e"/>
<path d="M644.5,120.8 C644.5,149.0 693.5,167.8 767,167.8 C840.5,167.8 889.5,149.0 889.5,120.8" fill="none" stroke="#4d5d63" stroke-width="6.2"/>
<path d="M644.5,120.8 C644.5,149.0 693.5,167.8 767,167.8 C840.5,167.8 889.5,149.0 889.5,120.8" fill="none" stroke="#8d9da3" stroke-width="2.2" transform="translate(0,-1.1)"/>
<path d="M644.5,222 C644.5,250.2 693.5,269 767,269 C840.5,269 889.5,250.2 889.5,222" fill="none" stroke="#4d5d63" stroke-width="6.2"/>
<path d="M644.5,222 C644.5,250.2 693.5,269 767,269 C840.5,269 889.5,250.2 889.5,222" fill="none" stroke="#8d9da3" stroke-width="2.2" transform="translate(0,-1.1)"/>
<path d="M644.5,338.5 C644.5,367.3 693.5,386.5 767,386.5 C840.5,386.5 889.5,367.3 889.5,338.5" fill="none" stroke="#4d5d63" stroke-width="6.2"/>
<path d="M644.5,338.5 C644.5,367.3 693.5,386.5 767,386.5 C840.5,386.5 889.5,367.3 889.5,338.5" fill="none" stroke="#8d9da3" stroke-width="2.2" transform="translate(0,-1.1)"/>
<path d="M644.5,461.5 C644.5,489.7 693.5,508.5 767,508.5 C840.5,508.5 889.5,489.7 889.5,461.5" fill="none" stroke="#4d5d63" stroke-width="6.2"/>
<path d="M644.5,461.5 C644.5,489.7 693.5,508.5 767,508.5 C840.5,508.5 889.5,489.7 889.5,461.5" fill="none" stroke="#8d9da3" stroke-width="2.2" transform="translate(0,-1.1)"/>
<path d="M644.5,570 C644.5,598.2 693.5,617 767,617 C840.5,617 889.5,598.2 889.5,570" fill="none" stroke="#4d5d63" stroke-width="6.2"/>
<path d="M644.5,570 C644.5,598.2 693.5,617 767,617 C840.5,617 889.5,598.2 889.5,570" fill="none" stroke="#8d9da3" stroke-width="2.2" transform="translate(0,-1.1)"/>
<path d="M644.5,679 C644.5,709.0 693.5,729 767,729 C840.5,729 889.5,709.0 889.5,679" fill="none" stroke="#4d5d63" stroke-width="6.2"/>
<path d="M644.5,679 C644.5,709.0 693.5,729 767,729 C840.5,729 889.5,709.0 889.5,679" fill="none" stroke="#8d9da3" stroke-width="2.2" transform="translate(0,-1.1)"/>
<rect x="641" y="117.3" width="26" height="7" rx="2" fill="#56666a"/>
<rect x="869" y="102.8" width="25" height="7" rx="2" fill="#56666a"/>
<rect x="641" y="218.5" width="26" height="7" rx="2" fill="#56666a"/>
<rect x="869" y="204" width="25" height="7" rx="2" fill="#56666a"/>
<rect x="641" y="347.0" width="26" height="7" rx="2" fill="#56666a"/>
<rect x="869" y="320.5" width="25" height="7" rx="2" fill="#56666a"/>
<rect x="641" y="458.0" width="26" height="7" rx="2" fill="#56666a"/>
<rect x="869" y="443.5" width="25" height="7" rx="2" fill="#56666a"/>
<rect x="641" y="566.5" width="26" height="7" rx="2" fill="#56666a"/>
<rect x="869" y="552" width="25" height="7" rx="2" fill="#56666a"/>
<rect x="641" y="675.5" width="26" height="7" rx="2" fill="#56666a"/>
<rect x="869" y="661" width="25" height="7" rx="2" fill="#56666a"/>
<rect x="655" y="61" width="5" height="240" fill="#d04858" opacity="0.75"/>
<rect x="657.5" y="61" width="2.4" height="240" fill="#c0101a"/>
<rect x="663" y="61" width="8" height="236" fill="#d8101c"/>
<rect x="663" y="61" width="2.6" height="236" fill="#8a0a12"/>
<rect x="671" y="61" width="1.6" height="236" fill="#e890a0" opacity="0.8"/>
<path d="M667,290 L667,300 Q667,306 674,305 C685,303 690,299 698.5,300 L698.5,348" fill="none" stroke="#d0121e" stroke-width="3.8"/>
<path d="M667,290 L667,300 Q667,306 674,305 C685,303 690,299 698.5,300 L698.5,348" fill="none" stroke="#980a14" stroke-width="1.6"/>
<path d="M698.5,300 Q702,296 712,295 C740,292 790,292 805,293 Q822,293 822,310 L822.5,348" fill="none" stroke="#d0121e" stroke-width="3.8"/>
<path d="M698.5,300 Q702,296 712,295 C740,292 790,292 805,293 Q822,293 822,310 L822.5,348" fill="none" stroke="#980a14" stroke-width="1.6"/>
<path d="M662.5,290 L662.5,365 C668,385 700,392 745,394 C760,396 764,410 765,435" fill="none" stroke="#d0121e" stroke-width="3.8"/>
<path d="M662.5,290 L662.5,365 C668,385 700,392 745,394 C760,396 764,410 765,435" fill="none" stroke="#980a14" stroke-width="1.6"/>
<path d="M696.5,347.8 L710.5,347.8 L710.5,372 L709.0,378 L698.0,378 L696.5,372 Z" fill="#c8d3d7"/>
<rect x="696.5" y="347.8" width="2" height="24.19999999999999" fill="#8d9da1"/>
<rect x="708.3" y="347.8" width="2.2" height="24.19999999999999" fill="#92a2a6"/>
<rect x="702.8" y="349.8" width="3.5" height="26.19999999999999" fill="#dce4e8"/>
<rect x="696.5" y="347.8" width="14.0" height="1.6" fill="#5c6c70"/>
<rect x="696.5" y="372" width="14.0" height="2" fill="#56666a"/>
<rect x="698.0" y="376.5" width="11.0" height="1.5" fill="#8a9a9e"/>
<path d="M820.5,348 L833.5,348 L833.5,372 L832.0,378 L822.0,378 L820.5,372 Z" fill="#c8d3d7"/>
<rect x="820.5" y="348" width="2" height="24" fill="#8d9da1"/>
<rect x="831.3" y="348" width="2.2" height="24" fill="#92a2a6"/>
<rect x="826.4" y="350" width="3.2" height="26" fill="#dce4e8"/>
<rect x="820.5" y="348" width="13.0" height="1.6" fill="#5c6c70"/>
<rect x="820.5" y="372" width="13.0" height="2" fill="#56666a"/>
<rect x="822.0" y="376.5" width="10.0" height="1.5" fill="#8a9a9e"/>
<path d="M758.5,435 L774.5,435 L774.5,455 L773.0,472 L760.0,472 L758.5,455 Z" fill="#c8d3d7"/>
<rect x="758.5" y="435" width="2" height="20" fill="#8d9da1"/>
<rect x="772.3" y="435" width="2.2" height="20" fill="#92a2a6"/>
<rect x="765.7" y="437" width="4.0" height="33" fill="#dce4e8"/>
<rect x="758.5" y="435" width="16.0" height="1.6" fill="#5c6c70"/>
<rect x="758.5" y="455" width="16.0" height="2" fill="#56666a"/>
<rect x="760.0" y="470.5" width="13.0" height="1.5" fill="#8a9a9e"/>
<line x1="752.5" y1="329.8" x2="762" y2="340.6" stroke="#9aa8a8" stroke-width="1.6"/>
<text x="709" y="323" font-size="18.8" textLength="164.4" lengthAdjust="spacingAndGlyphs" fill="#0b0b0b">rebar strainmeters</text>
</g>
<rect x="346.2" y="772.3" width="424.4" height="66" fill="none" stroke="#0a0a0a" stroke-width="4.4"/>
<text x="354.5" y="816.7" font-size="42.6" textLength="400.5" lengthAdjust="spacingAndGlyphs" fill="#0b0b0b">Installation drawing</text>
<line x1="1723" y1="103" x2="1723" y2="134" stroke="#111" stroke-width="2.2"/>
<path d="M1718,132.8 L1728,132.8 L1723,167.5 Z" fill="#111"/>
<text x="1746.5" y="153.1" font-size="37.7" textLength="571.5" lengthAdjust="spacingAndGlyphs" fill="#0b0b0b">Vibration Propagation Direction</text>
<text x="1233.5" y="252" font-size="30.4" textLength="95.5" lengthAdjust="spacingAndGlyphs" fill="#0b0b0b">Spacer</text>
<text x="1382.6" y="252" font-size="30.4" textLength="177.4" lengthAdjust="spacingAndGlyphs" fill="#0b0b0b">Binding Wire</text>
<text x="1652.6" y="252" font-size="30.4" textLength="225.7" lengthAdjust="spacingAndGlyphs" fill="#0b0b0b">Structural Rebar</text>
<text x="1954.2" y="252" font-size="30.4" textLength="178.1" lengthAdjust="spacingAndGlyphs" fill="#0b0b0b">Binding Wire</text>
<text x="2166" y="252" font-size="30.4" textLength="95" lengthAdjust="spacingAndGlyphs" fill="#0b0b0b">Spacer</text>
<line x1="1134.4" y1="267.5" x2="1134.4" y2="375" stroke="#1a2224" stroke-width="2" stroke-dasharray="5,3"/>
<line x1="2364.6" y1="266.4" x2="2364.6" y2="375.5" stroke="#1a2224" stroke-width="2" stroke-dasharray="5,3"/>
<line x1="1134" y1="290.8" x2="2365" y2="290.8" stroke="#46585c" stroke-width="3"/>
<line x1="1134" y1="340" x2="1548" y2="340" stroke="#46585c" stroke-width="3.2"/>
<line x1="1939" y1="340" x2="2365" y2="340" stroke="#46585c" stroke-width="3.2"/>
<line x1="1547" y1="340" x2="1940" y2="340" stroke="#1a2224" stroke-width="3.2"/>
<line x1="1263" y1="370.2" x2="1507.7" y2="370.2" stroke="#46585c" stroke-width="2.6"/>
<line x1="1980" y1="370.2" x2="2221.6" y2="370.2" stroke="#46585c" stroke-width="2.6"/>
<line x1="1169" y1="419.6" x2="1507.7" y2="419.6" stroke="#1a2224" stroke-width="2.6"/>
<line x1="1980" y1="419.6" x2="2318" y2="419.6" stroke="#1a2224" stroke-width="2.6"/>
<line x1="1170.3" y1="336" x2="1170.3" y2="421" stroke="#46585c" stroke-width="2.6"/>
<line x1="2317" y1="336" x2="2317" y2="421" stroke="#46585c" stroke-width="2.6"/>
<line x1="1263.5" y1="336" x2="1263.5" y2="373" stroke="#46585c" stroke-width="2.4"/>
<line x1="2221.6" y1="336" x2="2221.6" y2="373" stroke="#46585c" stroke-width="2.4"/>
<rect x="1169.5" y="336.2" width="94.5" height="7.4" fill="#0c0c0c"/>
<rect x="1169.5" y="366" width="94.5" height="7.4" fill="#0c0c0c"/>
<rect x="2221" y="336.7" width="96.5" height="7.4" fill="#0c0c0c"/>
<rect x="2221" y="366.3" width="96.5" height="7.4" fill="#0c0c0c"/>
<rect x="1356.5" y="285.5" width="9.5" height="138.5" rx="3.2" fill="#fff" stroke="#1a2224" stroke-width="2.4"/>
<rect x="2121.3" y="285" width="9.2" height="139" rx="3.2" fill="#fff" stroke="#1a2224" stroke-width="2.4"/>
<line x1="1367.5" y1="292" x2="1367.5" y2="419" stroke="#9aa6a8" stroke-width="1.4"/>
<line x1="1507.7" y1="350.5" x2="1507.7" y2="439" stroke="#46585c" stroke-width="2.8"/>
<polyline points="1547.7,340.5 1507.7,350.8" fill="none" stroke="#1e2628" stroke-width="2.4"/>
<polyline points="1507.7,438.6 1547.7,448.9" fill="none" stroke="#1e2628" stroke-width="2.4"/>
<line x1="1547.7" y1="340" x2="1547.7" y2="449" stroke="#1a2224" stroke-width="2.2"/>
<line x1="1547.7" y1="448.9" x2="1641" y2="448.9" stroke="#46585c" stroke-width="2.6"/>
<line x1="1641.7" y1="339" x2="1641.7" y2="450" stroke="#1a2224" stroke-width="3.4"/>
<line x1="1642" y1="449.7" x2="1768" y2="449.7" stroke="#1a2224" stroke-width="2.2"/>
<line x1="1845.5" y1="339" x2="1845.5" y2="478" stroke="#1a2224" stroke-width="3.4"/>
<line x1="1980" y1="351.4" x2="1980" y2="438.2" stroke="#46585c" stroke-width="2.8"/>
<polyline points="1939,340.5 1980,351.7" fill="none" stroke="#1e2628" stroke-width="2.4"/>
<polyline points="1980,437.8 1939,448.4" fill="none" stroke="#1e2628" stroke-width="2.4"/>
<line x1="1939" y1="340" x2="1939" y2="449" stroke="#1a2224" stroke-width="2.2"/>
<line x1="1845" y1="448.6" x2="1939" y2="448.6" stroke="#46585c" stroke-width="2.6"/>
<line x1="1310.0" y1="262.0" x2="1261.6" y2="262.0" stroke="#1a2426" stroke-width="2.8" stroke-linecap="round"/><line x1="1261.6" y1="262.0" x2="1217.5" y2="355.7" stroke="#1a2426" stroke-width="1.9" stroke-linecap="round"/>
<line x1="1481.7" y1="261.4" x2="1405.0" y2="261.4" stroke="#1a2426" stroke-width="2.8" stroke-linecap="round"/><line x1="1405.0" y1="261.4" x2="1361.0" y2="326.6" stroke="#1a2426" stroke-width="1.9" stroke-linecap="round"/>
<line x1="1824.0" y1="261.6" x2="1725.0" y2="261.6" stroke="#1a2426" stroke-width="2.8" stroke-linecap="round"/><line x1="1725.0" y1="261.6" x2="1688.3" y2="313.3" stroke="#1a2426" stroke-width="1.9" stroke-linecap="round"/>
<line x1="2005.6" y1="261.4" x2="2082.0" y2="261.4" stroke="#1a2426" stroke-width="2.8" stroke-linecap="round"/><line x1="2082.0" y1="261.4" x2="2125.5" y2="325.9" stroke="#1a2426" stroke-width="1.9" stroke-linecap="round"/>
<line x1="2175.7" y1="261.4" x2="2225.4" y2="261.4" stroke="#1a2426" stroke-width="2.8" stroke-linecap="round"/><line x1="2225.4" y1="261.4" x2="2269.3" y2="356.7" stroke="#1a2426" stroke-width="1.9" stroke-linecap="round"/>
<line x1="1767" y1="444.6" x2="1837" y2="444.6" stroke="#66767c" stroke-width="2.8"/>
<line x1="1767" y1="446.5" x2="1797.5" y2="476.5" stroke="#151b1d" stroke-width="2.2"/>
<line x1="1797" y1="476.8" x2="1845" y2="476.8" stroke="#5a6a6e" stroke-width="2.8"/>
<line x1="1843.2" y1="340" x2="1843.2" y2="476" stroke="#9aa8aa" stroke-width="1.2"/>
<line x1="1836" y1="444" x2="1836" y2="462.6" stroke="#1a2224" stroke-width="2"/>
<line x1="1836" y1="450" x2="1845" y2="450" stroke="#1a2224" stroke-width="2"/>
<rect x="1846" y="453.3" width="518.5" height="21.3" fill="#6d7f8d" stroke="#121a1e" stroke-width="2.4"/>
<line x1="1141.0" y1="518.0" x2="1306.8" y2="518.0" stroke="#1a2426" stroke-width="2.8" stroke-linecap="round"/><line x1="1306.8" y1="518.0" x2="1410.8" y2="414.0" stroke="#1a2426" stroke-width="1.9" stroke-linecap="round"/>
<line x1="1404.7" y1="518.5" x2="1481.3" y2="518.5" stroke="#1a2426" stroke-width="2.8" stroke-linecap="round"/><line x1="1481.3" y1="518.5" x2="1590.7" y2="420.0" stroke="#1a2426" stroke-width="1.9" stroke-linecap="round"/>
<line x1="1914.0" y1="462.0" x2="1993.5" y2="518.3" stroke="#1a2426" stroke-width="1.9" stroke-linecap="round"/><line x1="1993.5" y1="518.3" x2="2052.7" y2="518.3" stroke="#1a2426" stroke-width="2.8" stroke-linecap="round"/>
<text x="1356.8" y="510.2" font-size="29.9" textLength="256.2" lengthAdjust="spacingAndGlyphs" fill="#0b0b0b">rebar strainmeters</text>
<text x="1993.5" y="510.5" font-size="29.4" textLength="213.5" lengthAdjust="spacingAndGlyphs" fill="#0b0b0b">Conductor Wire</text>
<text x="1029.5" y="546.2" font-size="29.9" textLength="304.4" lengthAdjust="spacingAndGlyphs" fill="#0b0b0b">rebar strainmeters for</text>
<text x="1029.5" y="576.6" font-size="29.9" textLength="402.9" lengthAdjust="spacingAndGlyphs" fill="#0b0b0b">Load-Bearing Reinforcement</text>
<rect x="1164.7" y="602.5" width="1079.7" height="81.8" fill="none" stroke="#0a0a0a" stroke-width="4.4"/>
<text x="1176.3" y="660.2" font-size="42.0" textLength="1061.5" lengthAdjust="spacingAndGlyphs" fill="#0b0b0b">JMZX-4XXHATRebar Strainmeters ( VW &amp; Smart Type)</text>
</svg>
</body></html>
